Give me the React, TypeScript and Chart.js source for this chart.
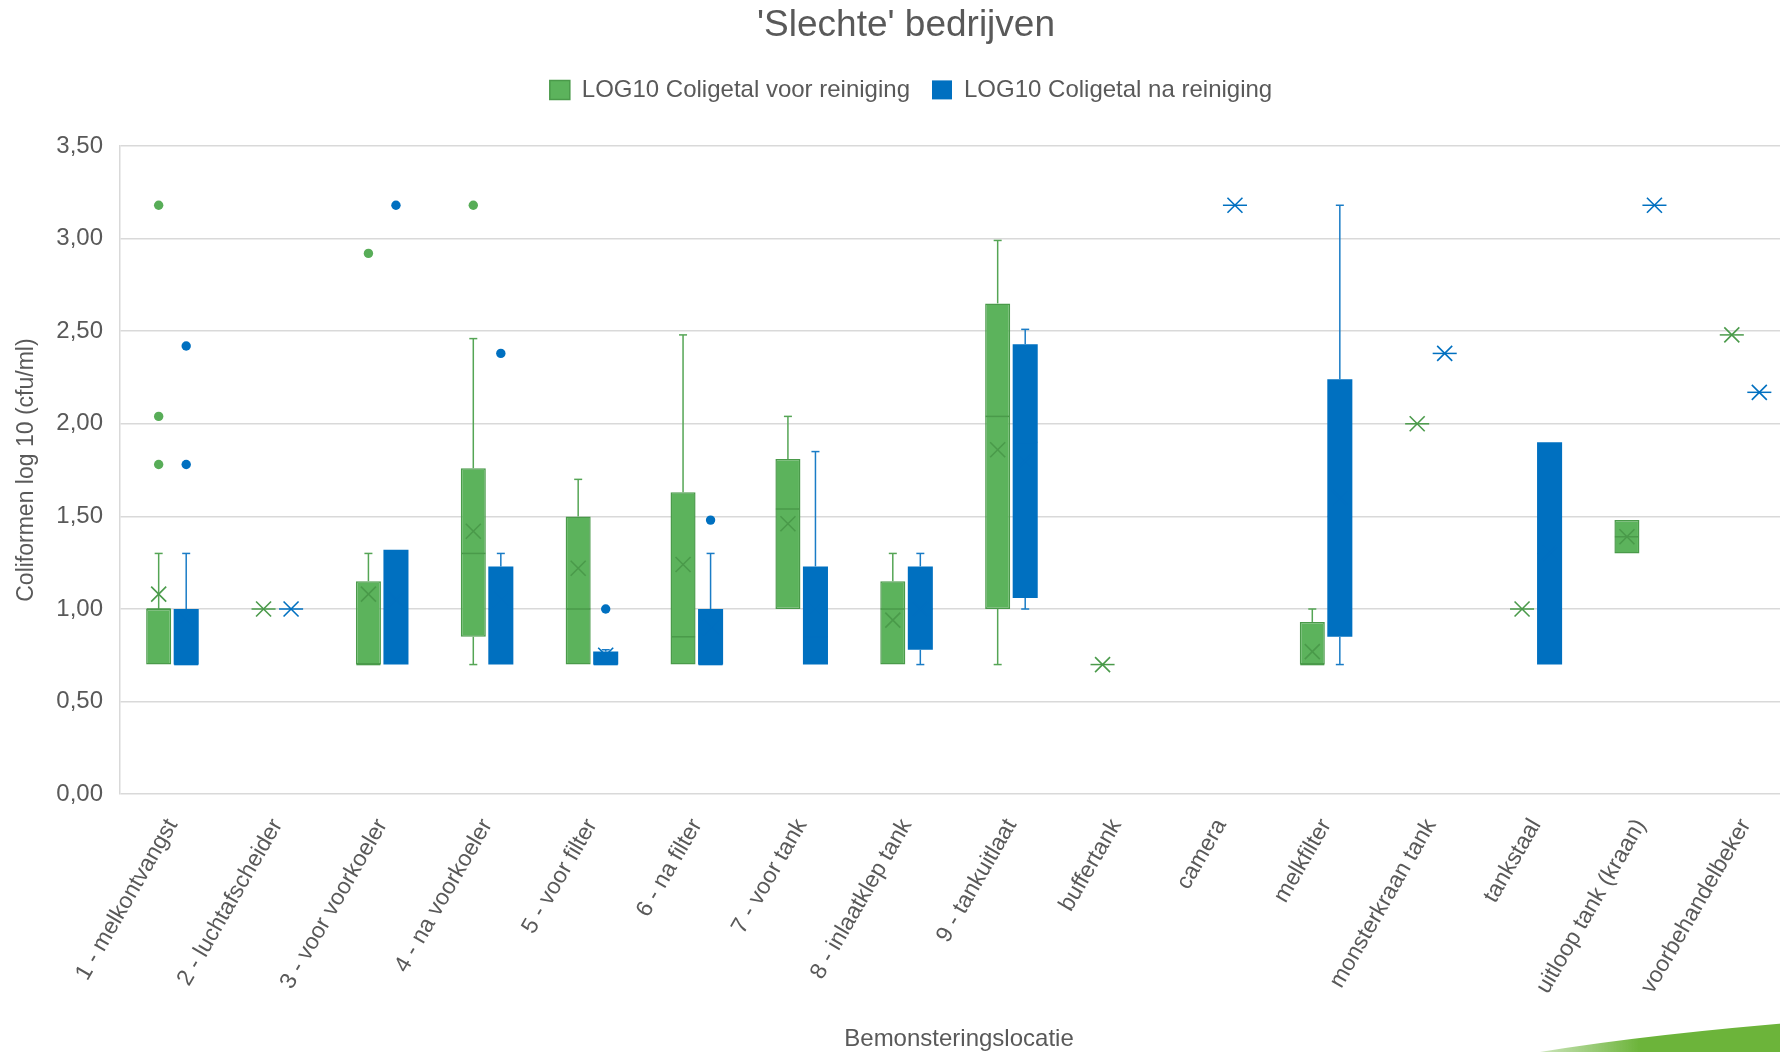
import React, { useEffect, useRef } from 'react';
import { Chart, registerables } from 'chart.js';

Chart.register(...registerables);

// ---------- data ----------
const categories = [
  '1 - melkontvangst',
  '2 - luchtafscheider',
  '3 - voor voorkoeler',
  '4 - na voorkoeler',
  '5 - voor filter',
  '6 - na filter',
  '7 - voor tank',
  '8 - inlaatklep tank',
  '9 - tankuitlaat',
  'buffertank',
  'camera',
  'melkfilter',
  'monsterkraan tank',
  'tankstaal',
  'uitloop tank (kraan)',
  'voorbehandelbeker',
];

const seriesNames = ['LOG10 Coligetal voor reiniging', 'LOG10 Coligetal na reiniging'];

const yTickLabels = ['0,00', '0,50', '1,00', '1,50', '2,00', '2,50', '3,00', '3,50'];

// LOG10 Coligetal voor reiniging
const voorMin = [0.70, 1.00, 0.70, 0.70, 0.70, 0.70, 1.00, 0.70, 0.70, 0.70, null, 0.70, 2.00, 1.00, 1.30, 2.48];
const voorQ1 = [0.70, 1.00, 0.70, 0.85, 0.70, 0.70, 1.00, 0.70, 1.00, 0.70, null, 0.70, 2.00, 1.00, 1.30, 2.48];
const voorMedian = [1.00, 1.00, 0.70, 1.30, 1.00, 0.85, 1.54, 1.00, 2.04, 0.70, null, 0.70, 2.00, 1.00, 1.39, 2.48];
const voorQ3 = [1.00, 1.00, 1.15, 1.76, 1.50, 1.63, 1.81, 1.15, 2.65, 0.70, null, 0.93, 2.00, 1.00, 1.48, 2.48];
const voorMax = [1.30, 1.00, 1.30, 2.46, 1.70, 2.48, 2.04, 1.30, 2.99, 0.70, null, 1.00, 2.00, 1.00, 1.48, 2.48];
const voorMean = [1.08, 1.00, 1.08, 1.42, 1.22, 1.24, 1.46, 0.94, 1.86, 0.70, null, 0.77, 2.00, 1.00, 1.39, 2.48];
const voorOutliers = [[3.18, 2.04, 1.78], [], [2.92], [3.18], [], [], [], [], [], [], [], [], [], [], [], []];

// LOG10 Coligetal na reiniging
const naMin = [0.70, 1.00, 0.70, 0.70, 0.70, 0.70, 0.70, 0.70, 1.00, null, 3.18, 0.70, 2.38, 0.70, 3.18, 2.17];
const naQ1 = [0.70, 1.00, 0.70, 0.70, 0.70, 0.70, 0.70, 0.78, 1.06, null, 3.18, 0.85, 2.38, 0.70, 3.18, 2.17];
const naMedian = [0.70, 1.00, 1.00, 1.00, 0.70, 0.70, 0.85, 1.00, 1.90, null, 3.18, 1.50, 2.38, 1.30, 3.18, 2.17];
const naQ3 = [1.00, 1.00, 1.32, 1.23, 0.77, 1.00, 1.23, 1.23, 2.43, null, 3.18, 2.24, 2.38, 1.90, 3.18, 2.17];
const naMax = [1.30, 1.00, 1.32, 1.30, 0.78, 1.30, 1.85, 1.30, 2.51, null, 3.18, 3.18, 2.38, 1.90, 3.18, 2.17];
const naMean = [0.95, 1.00, 1.05, 1.05, 0.75, 0.90, 1.00, 1.00, 1.80, null, 3.18, 1.60, 2.38, 1.30, 3.18, 2.17];
const naOutliers = [[2.42, 1.78], [], [3.18], [2.38], [1.00], [1.48], [], [], [], [], [], [], [], [], [], []];

// ---------- styles ----------
const W = 1812;
const H = 1055;
const FONT = "'Liberation Sans', Arial, Helvetica, sans-serif";
const TEXT = '#595959';
const GRID = '#d9d9d9';

const series = [
  {
    label: seriesNames[0],
    min: voorMin, q1: voorQ1, median: voorMedian, q3: voorQ3, max: voorMax, mean: voorMean, outliers: voorOutliers,
    fill: '#5cb35c', border: '#4a9a4a', borderWidth: 1.5, marker: '#4a9a4a', whisker: '#55a555', dot: '#58ad58',
  },
  {
    label: seriesNames[1],
    min: naMin, q1: naQ1, median: naMedian, q3: naQ3, max: naMax, mean: naMean, outliers: naOutliers,
    fill: '#0070c0', border: '#0070c0', borderWidth: 0, marker: '#0070c0', whisker: '#1a7cc6', dot: '#0070c0',
  },
];

const boxWhiskerPlugin = {
  id: 'boxWhisker',
  afterDatasetsDraw(chart: any) {
    const ctx = chart.ctx as CanvasRenderingContext2D;
    const yScale = chart.scales.y;
    const py = (v: number) => yScale.getPixelForValue(v);
    const line = (x1: number, y1: number, x2: number, y2: number) => {
      ctx.beginPath();
      ctx.moveTo(x1, y1);
      ctx.lineTo(x2, y2);
      ctx.stroke();
    };
    ctx.save();
    ctx.lineCap = 'butt';
    series.forEach((s, di) => {
      const meta = chart.getDatasetMeta(di);
      meta.data.forEach((el: any, i: number) => {
        if (s.q1[i] == null) return;
        const { x, width } = el.getProps(['x', 'width'], true);
        const half = width / 2;
        const q1 = s.q1[i] as number;
        const q3 = s.q3[i] as number;
        const mn = s.min[i] as number;
        const mx = s.max[i] as number;
        // whiskers
        ctx.strokeStyle = s.whisker;
        ctx.lineWidth = 1.5;
        if (mx > q3) {
          line(x, py(q3), x, py(mx));
          line(x - 4, py(mx), x + 4, py(mx));
        }
        if (mn < q1) {
          line(x, py(q1), x, py(mn));
          line(x - 4, py(mn), x + 4, py(mn));
        }
        // median / collapsed box line
        ctx.strokeStyle = s.marker;
        ctx.lineWidth = 1.5;
        const med = py(s.median[i] as number);
        line(x - half + 0.5, med, x + half - 0.5, med);
        // mean marker (X)
        const my = py(s.mean[i] as number);
        const r = 7.5;
        ctx.lineWidth = 1.6;
        line(x - r, my - r, x + r, my + r);
        line(x - r, my + r, x + r, my - r);
        // outliers
        ctx.fillStyle = s.dot;
        s.outliers[i].forEach((v) => {
          ctx.beginPath();
          ctx.arc(x, py(v), 4.7, 0, Math.PI * 2);
          ctx.fill();
        });
      });
    });
    ctx.restore();
  },
};

// small horizontal nudge of the legend row (reference legend sits slightly right of centre)
const legendShiftPlugin = {
  id: 'legendShift',
  afterLayout(chart: any) {
    if (chart.legend) {
      chart.legend.left += 5;
      chart.legend.right += 5;
    }
  },
};

const swooshPlugin = {
  id: 'swoosh',
  afterDraw(chart: any) {
    const ctx = chart.ctx as CanvasRenderingContext2D;
    ctx.save();
    const g = ctx.createLinearGradient(1540, 0, 1640, 0);
    g.addColorStop(0, 'rgba(108,180,58,0.35)');
    g.addColorStop(1, 'rgba(108,180,58,1)');
    ctx.fillStyle = g;
    ctx.beginPath();
    ctx.moveTo(1540, 1052);
    ctx.quadraticCurveTo(1650, 1034, 1812, 1021);
    ctx.lineTo(1812, H);
    ctx.lineTo(1540, H);
    ctx.closePath();
    ctx.fill();
    ctx.restore();
  },
};

export default function App() {
  const ref = useRef<HTMLCanvasElement | null>(null);

  useEffect(() => {
    if (!ref.current) return;
    const chart = new Chart(ref.current, {
      type: 'bar',
      data: {
        labels: categories,
        datasets: series.map((s) => ({
          label: s.label,
          data: s.q1.map((v, i) => (v == null ? null : [v, s.q3[i] as number])) as any,
          backgroundColor: s.fill,
          borderColor: s.border,
          borderWidth: s.borderWidth,
          borderSkipped: false,
          categoryPercentage: 0.525,
          barPercentage: 0.91,
          xAxisID: 'x',
          yAxisID: 'y',
        })),
      },
      options: {
        responsive: false,
        animation: false,
        devicePixelRatio: 1,
        layout: { padding: 0 },
        plugins: {
          title: {
            display: true,
            text: "'Slechte' bedrijven",
            color: TEXT,
            font: { family: FONT, size: 37, weight: 'normal' },
            padding: { top: 3.5, bottom: 8 },
          },
          legend: {
            display: true,
            position: 'top',
            labels: {
              color: TEXT,
              font: { family: FONT, size: 24 },
              boxWidth: 20,
              boxHeight: 19,
              padding: 22,
            },
          },
          tooltip: { enabled: false },
        },
        scales: {
          x: {
            type: 'category',
            position: 'bottom',
            grid: { display: false, drawTicks: false },
            border: { display: false },
            ticks: {
              autoSkip: false,
              maxRotation: 60,
              minRotation: 60,
              padding: 20,
              color: TEXT,
              font: { family: FONT, size: 23 },
            },
            title: {
              display: true,
              text: 'Bemonsteringslocatie',
              color: TEXT,
              font: { family: FONT, size: 24 },
              padding: { top: 0, bottom: 1.5 },
            },
            afterFit: (s: any) => {
              s.height = 260.8;
            },
          },
          xTop: {
            type: 'linear',
            position: 'top',
            display: true,
            grid: { display: false, drawTicks: false },
            border: { display: false },
            ticks: { display: false },
            afterFit: (s: any) => {
              s.height = 34.1;
            },
          },
          y: {
            type: 'linear',
            position: 'left',
            min: 0,
            max: 3.5,
            ticks: {
              stepSize: 0.5,
              padding: 17,
              color: TEXT,
              font: { family: FONT, size: 24 },
              callback: (_v: any, i: number) => yTickLabels[i],
            },
            grid: { color: GRID, lineWidth: 1.5, drawTicks: false },
            border: { display: true, color: GRID, width: 1.5 },
            title: {
              display: true,
              text: 'Coliformen log 10 (cfu/ml)',
              color: TEXT,
              font: { family: FONT, size: 23 },
              padding: { top: 12.7, bottom: 0 },
            },
            afterFit: (s: any) => {
              s.width = 120;
            },
          },
          yRight: {
            type: 'linear',
            position: 'right',
            display: true,
            grid: { display: false, drawTicks: false },
            border: { display: false },
            ticks: { display: false },
            afterFit: (s: any) => {
              s.width = 14;
            },
          },
        },
      } as any,
      plugins: [boxWhiskerPlugin, legendShiftPlugin, swooshPlugin],
    });
    return () => chart.destroy();
  }, []);

  return (
    <div
      style={{
        position: 'fixed',
        left: 0,
        top: 0,
        width: 1780,
        height: 1052,
        overflow: 'hidden',
        background: '#ffffff',
      }}
    >
      <canvas ref={ref} width={W} height={H} style={{ display: 'block', width: W, height: H }} />
    </div>
  );
}
